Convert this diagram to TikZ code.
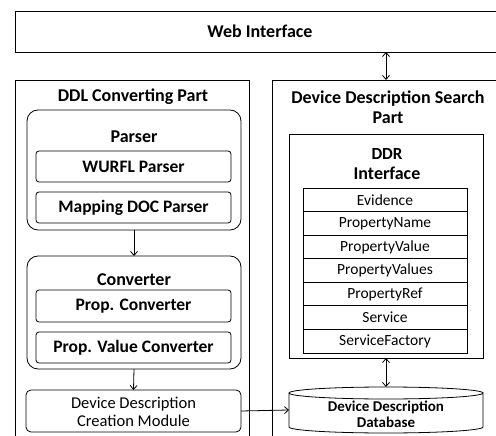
\documentclass[tikz,border=0pt]{standalone}
\usepackage{fontspec}
\setmainfont{Carlito}
\usetikzlibrary{arrows.meta}
\begin{document}
\begin{tikzpicture}[x=1pt,y=-1pt,
  every node/.style={inner sep=0pt, outer sep=0pt},
  frame/.style={draw, line width=0.8pt},
  bigbox/.style={frame, rectangle},
  roundbox/.style={frame, rounded corners=11pt},
  subbox/.style={frame, rounded corners=3pt, minimum width=195pt, minimum height=31pt, font=\fontsize{17.5}{19}\selectfont\bfseries},
  title/.style={font=\fontsize{18}{20}\selectfont\bfseries, align=center},
  rowbox/.style={frame, minimum width=164pt, minimum height=23.57pt, font=\fontsize{15.5}{17}\selectfont},
  arr/.style={line width=0.8pt, -{Straight Barb[length=4pt,width=7pt]}},
  darr/.style={line width=0.8pt, {Straight Barb[length=4pt,width=7pt]}-{Straight Barb[length=4pt,width=7pt]}}
]
\useasboundingbox (0,0) rectangle (496,436);
\clip (0,0) rectangle (496,436);
\fill[white] (0,0) rectangle (496,436);

% Web interface
\node[bigbox, minimum width=485pt, minimum height=41pt] (web) at (257.5,31.5) {};
\node[title] (webt) at (260,31.5) {Web Interface};

% Left part
\node[bigbox, minimum width=234pt, minimum height=360pt] (left) at (132,260) {};
\node[title] (leftt) at (133,97) {DDL Converting Part};

% Parser
\node[roundbox, minimum width=214pt, minimum height=120pt] (parser) at (134,170) {};
\node[title] (parsert) at (134,137) {Parser};
\node[subbox] (wurfl) at (133.5,166.5) {WURFL Parser};
\node[subbox] (mapping) at (133.5,207.5) {Mapping DOC Parser};

% Converter
\node[roundbox, minimum width=214pt, minimum height=113pt] (conv) at (134,312.5) {};
\node[title] (convt) at (134,280) {Converter};
\node[subbox, minimum height=32pt] (propc) at (133.5,306) {Prop. Converter};
\node[subbox] (propvc) at (133.5,347.5) {Prop. Value Converter};

% Creation module
\node[frame, rounded corners=5pt, minimum width=215pt, minimum height=42pt] (ddcm) at (133.5,411) {};
\node[align=center, font=\fontsize{16.5}{18}\selectfont] (ddcmt) at (133.5,412) {Device Description\\Creation Module};

\draw[arr] (parser.south) -- (conv.north);
\draw[arr] (conv.south) -- (ddcm.north);

% Right part
\node[bigbox, minimum width=228pt, minimum height=360pt] (right) at (386,260) {};
\node[title] (rightt) at (388,107) {Device Description Search\\Part};

% DDR interface
\node[frame, minimum width=194pt, minimum height=224pt] (ddr) at (386,246) {};
\node[font=\fontsize{17}{20}\selectfont\bfseries] (ddrt) at (387,154) {DDR};
\node[title] (ddrt2) at (387,173) {Interface};

\node[rowbox] (r1) at (385,199.8) {Evidence};
\node[rowbox, anchor=north] (r2) at (r1.south) {PropertyName};
\node[rowbox, anchor=north] (r3) at (r2.south) {PropertyValue};
\node[rowbox, anchor=north] (r4) at (r3.south) {PropertyValues};
\node[rowbox, anchor=north] (r5) at (r4.south) {PropertyRef};
\node[rowbox, anchor=north] (r6) at (r5.south) {Service};
\node[rowbox, anchor=north] (r7) at (r6.south) {ServiceFactory};

% Database
\node[minimum width=194pt, minimum height=46pt] (db) at (386,410) {};
\node[align=center, font=\fontsize{15}{16}\selectfont\bfseries] (dbt) at (386,414) {Device Description\\Database};
\draw[line width=0.8pt]
  ([yshift=-6pt]db.north west) -- ([yshift=6pt]db.south west)
  arc[start angle=180, end angle=360, x radius=97pt, y radius=6pt]
  -- ([yshift=-6pt]db.north east)
  arc[start angle=0, end angle=-180, x radius=97pt, y radius=6pt]
  arc[start angle=180, end angle=360, x radius=97pt, y radius=-6pt];

% connectors
\draw[darr] (web.south -| right.north) -- (right.north);
\draw[darr] (ddr.south) -- (db.north);
\draw[arr] (ddcm.east) -- (db.west);
\end{tikzpicture}
\end{document}
